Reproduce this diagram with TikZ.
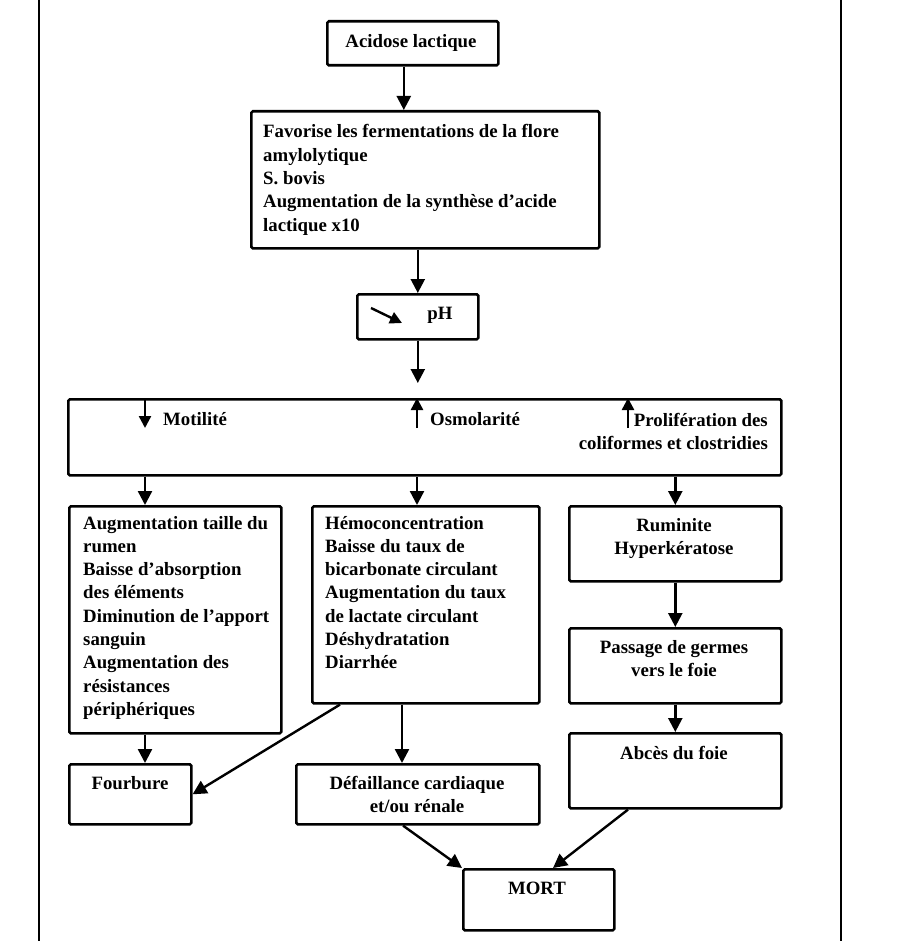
\documentclass[tikz,border=0pt]{standalone}
\usepackage{fontspec}
\setmainfont{Liberation Serif}
\usetikzlibrary{arrows.meta}
\begin{document}
\begin{tikzpicture}[x=1pt,y=-1pt,
  frame/.style={draw, line width=2.6pt, rounded corners=1.5pt, inner sep=0, anchor=north west},
  arr/.style={line width=2.4pt, -{Triangle[length=14pt,width=14pt]}},
  smallarr/.style={line width=2.4pt, -{Triangle[length=12pt,width=12pt]}},
  txt/.style={inner sep=0, font=\fontsize{18.8}{23.3}\selectfont\bfseries},
  border/.style={line width=2.6pt}
]
\useasboundingbox (0,0) rectangle (900,941);
% outer vertical lines
\draw[border] (39,-5) -- (39,946);
\draw[border] (841,-5) -- (841,946);

% frames
\node[frame, minimum width=171, minimum height=44] (acid) at (326,20) {};
\node[frame, minimum width=348, minimum height=137] (fav) at (250,110) {};
\node[frame, minimum width=121, minimum height=45] (ph) at (356,293) {};
\node[frame, minimum width=713, minimum height=76] (wide) at (67,398) {};
\node[frame, minimum width=212, minimum height=227] (A) at (68,505) {};
\node[frame, minimum width=227, minimum height=197] (B) at (311,505) {};
\node[frame, minimum width=212, minimum height=75] (C) at (568,505) {};
\node[frame, minimum width=212, minimum height=75] (D) at (568,627) {};
\node[frame, minimum width=212, minimum height=75] (E) at (568,732) {};
\node[frame, minimum width=122, minimum height=60] (four) at (68,763) {};
\node[frame, minimum width=243, minimum height=60] (def) at (295,763) {};
\node[frame, minimum width=151, minimum height=61] (mort) at (462,868) {};

% texts
\node[txt, anchor=base] (tacid) at (411,48) {Acidose lactique};
\node[txt, anchor=base west] (tfav) at (263,138) {\parbox[t]{330pt}{Favorise les fermentations de la flore\\amylolytique\\S. bovis\\Augmentation de la synthèse d'acide\\lactique x10}};
\node[txt, anchor=base] (tph) at (440,319) {pH};
\node[txt, anchor=base west] (tmot) at (163,425) {Motilité};
\node[txt, anchor=base west] (tosm) at (430,425) {Osmolarité};
\node[txt, anchor=base east] (tpro) at (768,426) {\parbox[t]{200pt}{\raggedleft Prolifération des\\coliformes et clostridies}};
\node[txt, anchor=base west] (tA) at (83,529) {\parbox[t]{195pt}{Augmentation taille du\\rumen\\Baisse d'absorption\\des éléments\\Diminution de l'apport\\sanguin\\Augmentation des\\résistances\\périphériques}};
\node[txt, anchor=base west] (tB) at (325,529) {\parbox[t]{210pt}{Hémoconcentration\\Baisse du taux de\\bicarbonate circulant\\Augmentation du taux\\de lactate circulant\\Déshydratation\\Diarrhée}};
\node[txt, anchor=base] (tC) at (674,531) {\parbox[t]{200pt}{\centering Ruminite\\Hyperkératose}};
\node[txt, anchor=base] (tD) at (674,653) {\parbox[t]{200pt}{\centering Passage de germes\\vers le foie}};
\node[txt, anchor=base] (tE) at (674,759) {Abcès du foie};
\node[txt, anchor=base] (tfour) at (130,789) {Fourbure};
\node[txt, anchor=base] (tdef) at (417,789) {\parbox[t]{230pt}{\centering Défaillance cardiaque\\et/ou rénale}};
\node[txt, anchor=base] (tmort) at (537,894) {MORT};

% helper coordinates
\coordinate (m1) at (145,428);
\coordinate (o1) at (417,428);
\coordinate (p1) at (628,428);

% connectors
\draw[arr] ([xshift=-9pt]acid.south) -- ([xshift=-9pt]acid.south |- fav.north);
\draw[arr] (fav.south -| ph.north) -- (ph.north);
\draw[smallarr] ([xshift=15pt,yshift=-15pt]ph.north west) -- ++(31,15);
\draw[arr, shorten >=15pt] (ph.south) -- (ph.south |- wide.north);
\draw[smallarr] (wide.north -| m1) -- (m1);
\draw[smallarr] (o1) -- (wide.north -| o1);
\draw[smallarr] (p1) -- (wide.north -| p1);
\draw[arr] (wide.south -| m1) -- (A.north -| m1);
\draw[arr] (wide.south -| o1) -- (B.north -| o1);
\draw[arr] (wide.south -| C.north) -- (C.north);
\draw[arr] (C.south) -- (D.north);
\draw[arr] (D.south) -- (E.north);
\draw[arr] (A.south -| m1) -- (four.north -| m1);
\draw[arr] ([xshift=29pt]B.south west) -- (four.east);
\draw[arr] ([xshift=91pt]B.south west) -- ([xshift=91pt]B.south west |- def.north);
\draw[arr] ([xshift=108pt]def.south west) -- (mort.north west);
\draw[arr] ([xshift=60pt]E.south west) -- ([xshift=91pt]mort.north west);
\end{tikzpicture}
\end{document}
